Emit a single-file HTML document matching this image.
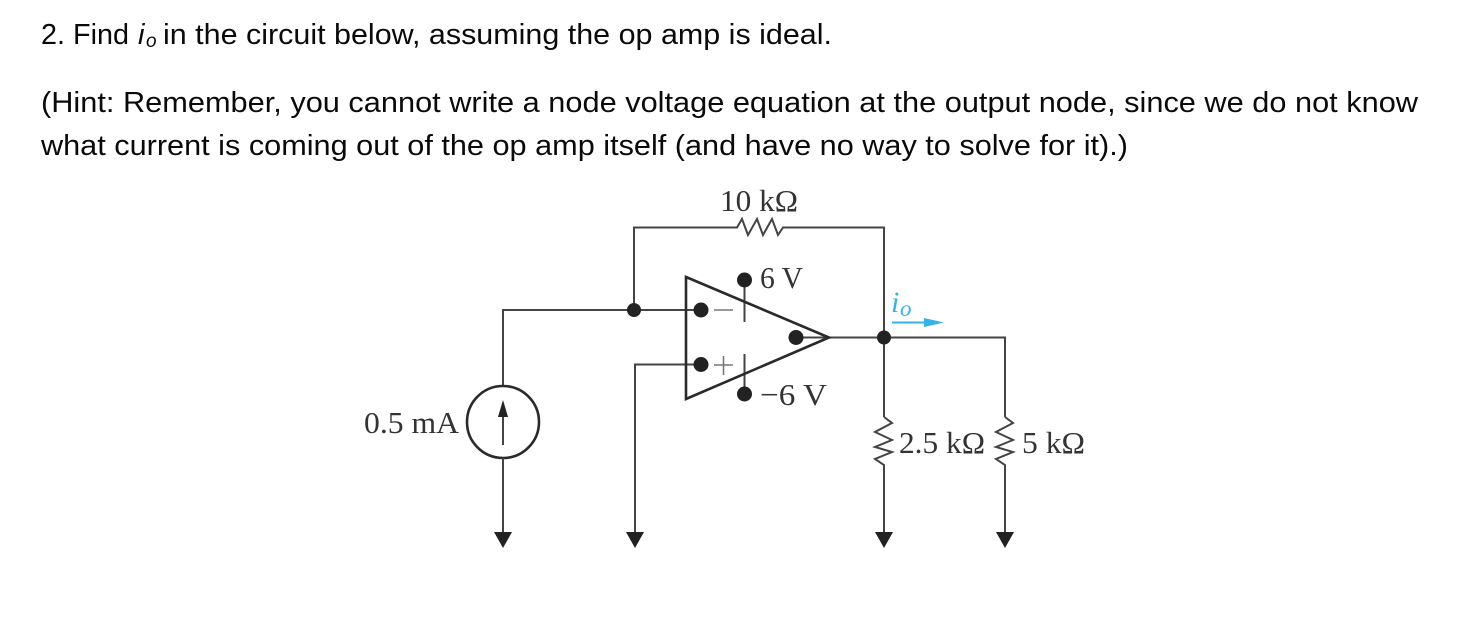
<!DOCTYPE html>
<html><head><meta charset="utf-8"><style>
html,body{margin:0;padding:0;background:#fff;width:1460px;height:640px;overflow:hidden}
svg{display:block}
.t{font-family:"Liberation Sans",sans-serif;font-size:29px;fill:#0a0a0a}
.c{font-family:"Liberation Serif",serif;font-size:31px;fill:#333}
.w{fill:none;stroke:#444;stroke-width:2;stroke-linejoin:miter}
.k{fill:none;stroke:#2a2a2a;stroke-width:2.6}
.d{fill:#222}
</style></head><body>
<svg width="1460" height="640" viewBox="0 0 1460 640" xmlns="http://www.w3.org/2000/svg">
<text class="t" x="41" y="44" textLength="88" lengthAdjust="spacingAndGlyphs">2. Find</text>
<text class="t" x="138" y="44" font-style="italic">i</text>
<text class="t" x="146" y="47" font-style="italic" style="font-size:19px">o</text>
<text class="t" x="163" y="44" textLength="669" lengthAdjust="spacingAndGlyphs">in the circuit below, assuming the op amp is ideal.</text>
<text class="t" x="41" y="112" textLength="1377" lengthAdjust="spacingAndGlyphs">(Hint: Remember, you cannot write a node voltage equation at the output node, since we do not know</text>
<text class="t" x="41" y="155" textLength="1087" lengthAdjust="spacingAndGlyphs">what current is coming out of the op amp itself (and have no way to solve for it).)</text>

<!-- feedback -->
<path class="w" d="M634 310V227.500H737L742 219L748 235L757 219L763 235L772 219L778 235L783 227.500H884V337"/>
<!-- inputs -->
<path class="w" d="M503 388V310H701"/>
<path class="w" d="M635 534V364.500H701"/>
<!-- output -->
<path class="w" d="M796 337.500H1005V417"/>
<path class="w" d="M884 337V417"/>
<!-- supply pins -->
<path class="w" d="M744.500 279V322M744.500 354V396"/>
<!-- op amp -->
<path class="k" d="M686 277L829 337.500L686 399Z"/>
<path fill="none" stroke="#777" stroke-width="1.600" d="M714 310H733M714 365H733M723.500 356V375"/>
<!-- dots -->
<circle class="d" cx="634" cy="310" r="7"/>
<circle class="d" cx="701" cy="310" r="7.500"/>
<circle class="d" cx="701" cy="364.500" r="7.500"/>
<circle class="d" cx="744.500" cy="280" r="7.500"/>
<circle class="d" cx="744.500" cy="394" r="7.500"/>
<circle class="d" cx="796" cy="337.500" r="7.500"/>
<circle class="d" cx="884" cy="337.500" r="7"/>
<!-- source -->
<circle cx="503" cy="422" r="36" fill="#fff" stroke="#2a2a2a" stroke-width="2.600"/>
<path class="w" d="M503 445V412"/>
<path class="d" d="M503 400L508 417H498Z"/>
<path class="w" d="M503 458V534"/>
<!-- shunt resistors -->
<path class="w" d="M884 417L892 423L875 432L892 440L875 447L892 452L875 459L884 465V534"/>
<path class="w" d="M1005 417L1013 423L996 432L1013 440L996 447L1013 452L996 459L1005 465V534"/>
<!-- ground arrows -->
<path class="d" d="M494 532H512L503 548Z"/>
<path class="d" d="M626 532H644L635 548Z"/>
<path class="d" d="M875 532H893L884 548Z"/>
<path class="d" d="M996 532H1014L1005 548Z"/>
<!-- labels -->
<text class="c" x="720" y="211" textLength="78" lengthAdjust="spacingAndGlyphs">10 kΩ</text>
<text class="c" x="760" y="288" textLength="43" lengthAdjust="spacingAndGlyphs">6 V</text>
<text class="c" x="760" y="405" textLength="67" lengthAdjust="spacingAndGlyphs">−6 V</text>
<text class="c" x="364" y="433" textLength="95" lengthAdjust="spacingAndGlyphs">0.5 mA</text>
<text class="c" x="899" y="453" textLength="86" lengthAdjust="spacingAndGlyphs">2.5 kΩ</text>
<text class="c" x="1022" y="453" textLength="63" lengthAdjust="spacingAndGlyphs">5 kΩ</text>
<!-- current label -->
<text x="891" y="312" style="font-family:'Liberation Serif',serif;font-style:italic;font-size:30px;fill:#35b2e8">i</text>
<text x="900" y="316" style="font-family:'Liberation Serif',serif;font-style:italic;font-size:23px;fill:#35b2e8">o</text>
<path stroke="#35b2e8" stroke-width="2" d="M892 322.500H925"/>
<path fill="#35b2e8" d="M924 318L944 322.500L924 327Z"/>
</svg>
</body></html>
